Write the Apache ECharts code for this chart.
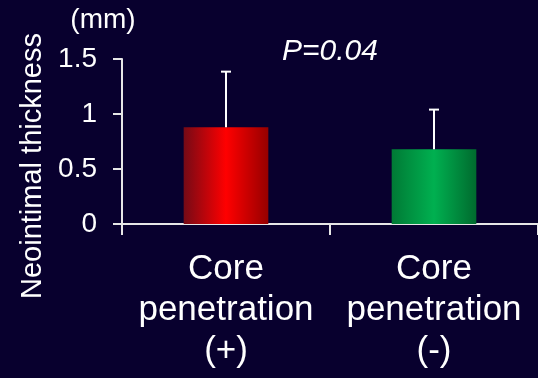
<!DOCTYPE html>
<html>
<head>
<meta charset="utf-8">
<script src="https://cdn.jsdelivr.net/npm/echarts@6/dist/echarts.min.js"></script>
<style>
html,body{margin:0;padding:0;background:#08002e;}
#chart{width:538px;height:378px;}
</style>
</head>
<body>
<div id="chart"></div>
<script>
var categories = ['Core\npenetration\n(+)', 'Core\npenetration\n(-)'];
var means = [0.88, 0.68];
var sdUpper = [0.505, 0.36];
var yTicks = [0, 0.5, 1, 1.5];
var yTitle = 'Neointimal thickness';
var unitLabel = '(mm)';
var pLabel = 'P=0.04';

var FONT = 'Liberation Sans, Arial, sans-serif';
var barColors = [
  new echarts.graphic.LinearGradient(0, 0, 1, 0, [
    {offset: 0, color: '#750a16'}, {offset: 0.5, color: '#ff0000'}, {offset: 1, color: '#960000'}
  ]),
  new echarts.graphic.LinearGradient(0, 0, 1, 0, [
    {offset: 0, color: '#007a35'}, {offset: 0.5, color: '#00b050'}, {offset: 1, color: '#006a2e'}
  ])
];

var chart = echarts.init(document.getElementById('chart'), null, {renderer: 'canvas'});
chart.setOption({
  backgroundColor: '#08002e',
  animation: false,
  grid: {left: 122, right: -2, top: 59, bottom: 154},
  xAxis: {
    type: 'category',
    data: categories,
    boundaryGap: true,
    axisLine: {lineStyle: {color: '#e6e6e6', width: 2}},
    axisTick: {show: true, inside: false, length: 11, alignWithLabel: false, lineStyle: {color: '#e6e6e6', width: 2}},
    axisLabel: {color: '#ffffff', fontFamily: FONT, fontSize: 35, lineHeight: 41, margin: 25, interval: 0}
  },
  yAxis: {
    type: 'value',
    min: yTicks[0],
    max: yTicks[yTicks.length - 1],
    interval: 0.5,
    splitLine: {show: false},
    axisLine: {show: true, lineStyle: {color: '#e6e6e6', width: 2}},
    axisTick: {show: true, inside: false, length: 9, lineStyle: {color: '#e6e6e6', width: 2}},
    axisLabel: {color: '#ffffff', fontFamily: FONT, fontSize: 28, margin: 25,
      formatter: function (v) { return String(v); }}
  },
  series: [
    {
      type: 'bar',
      barWidth: '40.7%',
      data: means.map(function (v, i) { return {value: v, itemStyle: {color: barColors[i]}}; }),
      z: 2
    },
    {
      type: 'custom',
      z: 3,
      data: means.map(function (v, i) { return [i, v, v + sdUpper[i]]; }),
      renderItem: function (params, api) {
        var base = api.coord([api.value(0), api.value(1)]);
        var top = api.coord([api.value(0), api.value(2)]);
        var half = 5;
        var style = {stroke: '#ffffff', lineWidth: 2};
        return {
          type: 'group',
          children: [
            {type: 'line', shape: {x1: base[0], y1: base[1], x2: top[0], y2: top[1]}, style: style},
            {type: 'line', shape: {x1: top[0] - half, y1: top[1], x2: top[0] + half, y2: top[1]}, style: style}
          ]
        };
      }
    }
  ],
  graphic: [
    {type: 'text', x: 103, y: 20, style: {text: unitLabel, fill: '#ffffff', font: '28px ' + FONT, textAlign: 'center', textVerticalAlign: 'middle'}},
    {type: 'text', x: 330, y: 52, style: {text: pLabel, fill: '#ffffff', font: 'italic 30px ' + FONT, textAlign: 'center', textVerticalAlign: 'middle'}},
    {type: 'text', x: 33, y: 166, rotation: Math.PI / 2, style: {text: yTitle, fill: '#ffffff', font: '29px ' + FONT, textAlign: 'center', textVerticalAlign: 'middle'}}
  ]
});
</script>
</body>
</html>
